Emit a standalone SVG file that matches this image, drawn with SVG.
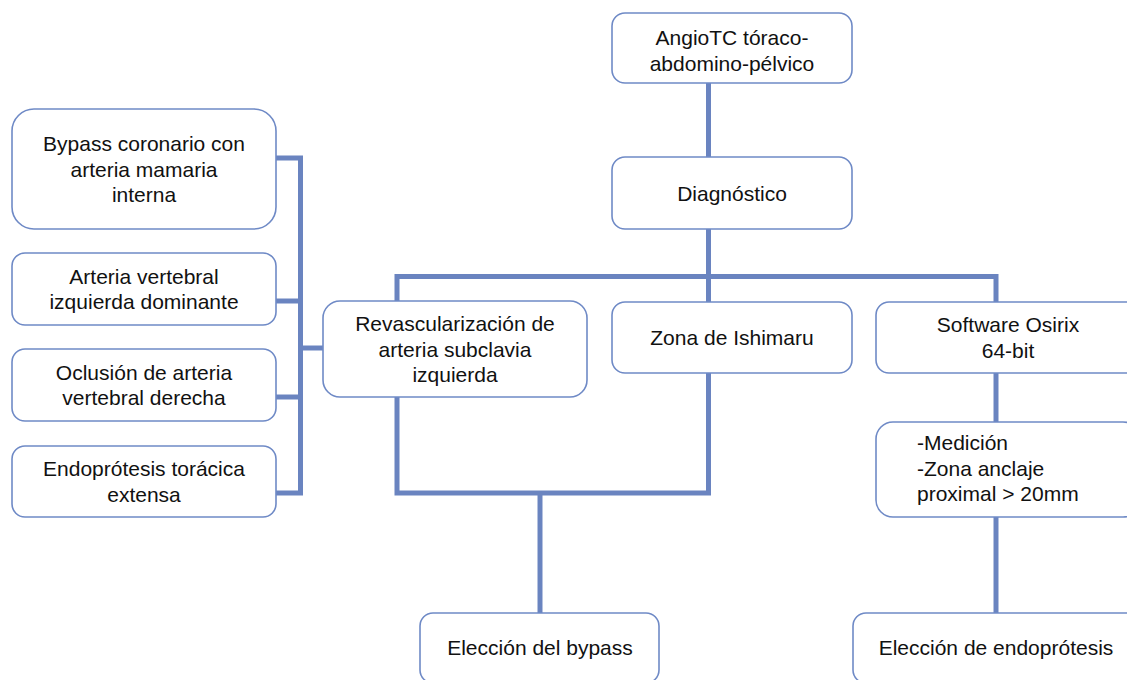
<svg xmlns="http://www.w3.org/2000/svg" width="1127" height="680" viewBox="0 0 1127 680">
<style>
.box{fill:#fff;stroke:#6f8ac6;stroke-width:1.6}
.t{font-family:"Liberation Sans",Arial,Helvetica,sans-serif;font-size:21px;fill:#111;text-anchor:middle}
.tl{text-anchor:start}
.c{fill:none;stroke:#6a84c0;stroke-width:5;stroke-linecap:butt;stroke-linejoin:miter}
</style>
<rect width="1127" height="680" fill="#fff"/>
<g id="connectors">
<path class="c" d="M708.5 83V157"/>
<path class="c" d="M708.5 229V302"/>
<path class="c" d="M397 302V276.5H996V302"/>
<path class="c" d="M996 373V422"/>
<path class="c" d="M996 517V613"/>
<path class="c" d="M397 397V493H708.5V373"/>
<path class="c" d="M540 493V613"/>
<path class="c" d="M276 158H300.5V493H276"/>
<path class="c" d="M276 301H300.5"/>
<path class="c" d="M276 397H300.5"/>
<path class="c" d="M300.5 348H323"/>
</g>
<g id="angiotc">
<rect class="box" x="612" y="13" width="240" height="70" rx="13"/>
<text class="t" x="732" y="45">AngioTC tóraco-</text>
<text class="t" x="732" y="70.5">abdomino-pélvico</text>
</g>
<g id="diagnostico">
<rect class="box" x="612" y="157" width="240" height="72" rx="13"/>
<text class="t" x="732" y="200.5">Diagnóstico</text>
</g>
<g id="bypass-coronario">
<rect class="box" x="12" y="109" width="264" height="120" rx="22"/>
<text class="t" x="144" y="151">Bypass coronario con</text>
<text class="t" x="144" y="176.5">arteria mamaria</text>
<text class="t" x="144" y="202">interna</text>
</g>
<g id="arteria-vertebral">
<rect class="box" x="12" y="253" width="264" height="72" rx="13"/>
<text class="t" x="144" y="283.5">Arteria vertebral</text>
<text class="t" x="144" y="309">izquierda dominante</text>
</g>
<g id="oclusion">
<rect class="box" x="12" y="349" width="264" height="72" rx="13"/>
<text class="t" x="144" y="379.5">Oclusión de arteria</text>
<text class="t" x="144" y="405">vertebral derecha</text>
</g>
<g id="endoprotesis-toracica">
<rect class="box" x="12" y="446" width="264" height="71" rx="13"/>
<text class="t" x="144" y="476">Endoprótesis torácica</text>
<text class="t" x="144" y="501.5">extensa</text>
</g>
<g id="revascularizacion">
<rect class="box" x="323" y="301" width="264" height="96" rx="17"/>
<text class="t" x="455" y="331">Revascularización de</text>
<text class="t" x="455" y="356.5">arteria subclavia</text>
<text class="t" x="455" y="382">izquierda</text>
</g>
<g id="ishimaru">
<rect class="box" x="612" y="302" width="240" height="71" rx="13"/>
<text class="t" x="732" y="345">Zona de Ishimaru</text>
</g>
<g id="osirix">
<rect class="box" x="876" y="302" width="264" height="71" rx="13"/>
<text class="t" x="1008" y="332">Software Osirix</text>
<text class="t" x="1008" y="357.5">64-bit</text>
</g>
<g id="medicion">
<rect class="box" x="876" y="422" width="264" height="95" rx="17"/>
<text class="t tl" x="917" y="450">-Medición</text>
<text class="t tl" x="917" y="475.5">-Zona anclaje</text>
<text class="t tl" x="917" y="501">proximal &gt; 20mm</text>
</g>
<g id="eleccion-bypass">
<rect class="box" x="420" y="613" width="239" height="70" rx="13"/>
<text class="t" x="540" y="655">Elección del bypass</text>
</g>
<g id="eleccion-endoprotesis">
<rect class="box" x="853" y="613" width="286" height="70" rx="13"/>
<text class="t" x="996" y="655">Elección de endoprótesis</text>
</g>
</svg>
